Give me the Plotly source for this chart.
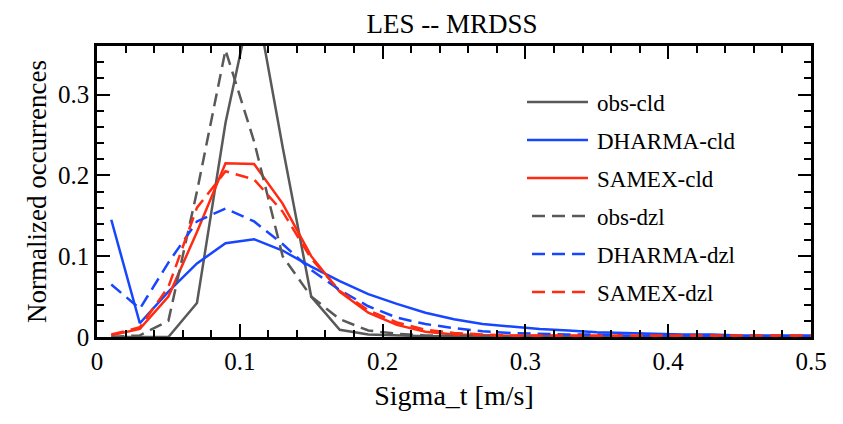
import plotly.graph_objects as go

x = [0.01, 0.03, 0.05, 0.07, 0.09, 0.11, 0.13, 0.15, 0.17, 0.19, 0.21, 0.23, 0.25,
     0.27, 0.29, 0.31, 0.33, 0.35, 0.37, 0.39, 0.41, 0.43, 0.45, 0.47, 0.49, 0.51]

obs_cld = [0.0, 0.0, 0.0, 0.042, 0.265, 0.43, 0.235, 0.05, 0.009, 0.003, 0.002, 0.001, 0.001,
           0.0, 0.0, 0.0, 0.0, 0.0, 0.0, 0.0, 0.0, 0.0, 0.0, 0.0, 0.0, 0.0]
dharma_cld = [0.145, 0.017, 0.056, 0.091, 0.116, 0.121, 0.107, 0.087, 0.069, 0.053, 0.041, 0.030, 0.022,
              0.016, 0.013, 0.010, 0.008, 0.006, 0.005, 0.004, 0.003, 0.003, 0.002, 0.002, 0.002, 0.002]
samex_cld = [0.002, 0.010, 0.050, 0.130, 0.215, 0.214, 0.165, 0.100, 0.056, 0.030, 0.015, 0.0066, 0.003,
             0.002, 0.0015, 0.0015, 0.001, 0.001, 0.001, 0.001, 0.001, 0.001, 0.001, 0.001, 0.001, 0.001]
obs_dzl = [0.0, 0.002, 0.020, 0.180, 0.355, 0.242, 0.100, 0.050, 0.022, 0.008, 0.004, 0.002, 0.001,
           0.001, 0.0, 0.0, 0.0, 0.0, 0.0, 0.0, 0.0, 0.0, 0.0, 0.0, 0.0, 0.0]
dharma_dzl = [0.065, 0.035, 0.092, 0.143, 0.159, 0.143, 0.115, 0.083, 0.058, 0.038, 0.024, 0.016, 0.011,
              0.007, 0.005, 0.004, 0.003, 0.003, 0.002, 0.002, 0.002, 0.001, 0.001, 0.001, 0.001, 0.001]
samex_dzl = [0.003, 0.012, 0.062, 0.160, 0.205, 0.195, 0.155, 0.097, 0.057, 0.033, 0.018, 0.009, 0.005,
             0.003, 0.002, 0.002, 0.002, 0.002, 0.002, 0.002, 0.002, 0.002, 0.002, 0.002, 0.002, 0.002]

names = ["obs-cld", "DHARMA-cld", "SAMEX-cld", "obs-dzl", "DHARMA-dzl", "SAMEX-dzl"]
series = [obs_cld, dharma_cld, samex_cld, obs_dzl, dharma_dzl, samex_dzl]

GRAY = "#595959"
BLUE = "#1746ff"
RED = "#ff2b12"
colors = [GRAY, BLUE, RED, GRAY, BLUE, RED]
DASH = "13px,7px"
dashes = ["solid", "solid", "solid", DASH, DASH, DASH]

FONT = "Liberation Serif"

# page body has an 8px margin: the figure is offset by (8, 8) in the window
OFF = 8
FIG_W, FIG_H = 843 - OFF, 424 - OFF
# plot area target in window pixels
L, R, T, B = 97, 811, 46, 337
W, H = R - L, B - T

fig = go.Figure()
for n, s, c, d in zip(names, series, colors, dashes):
    fig.add_trace(go.Scatter(x=x, y=s, mode="lines", name=n,
                             line=dict(color=c, width=2.5, dash=d),
                             showlegend=False))

def px(v):
    return (v - L) / W
def py(v):
    return (B - v) / H

leg_y = [102, 140, 178, 216, 254, 292]
shapes = []
annotations = []
for n, c, d, yy in zip(names, colors, dashes, leg_y):
    x0 = 527 if d == "solid" else 532
    shapes.append(dict(type="line", xref="paper", yref="paper",
                       x0=px(x0), x1=px(588), y0=py(yy), y1=py(yy),
                       line=dict(color=c, width=2.5, dash=d)))
    annotations.append(dict(xref="paper", yref="paper", x=px(595), y=py(yy + 1),
                            text=n, showarrow=False, xanchor="left", yanchor="middle",
                            font=dict(family=FONT, size=23, color="black")))

axis_common = dict(showline=True, linecolor="black", linewidth=2.5, mirror="ticks",
                   ticks="inside", ticklen=13, tickwidth=2, tickcolor="black",
                   showgrid=False, zeroline=False, automargin=False,
                   tickfont=dict(family=FONT, size=25, color="black"),
                   minor=dict(ticks="inside", ticklen=7, tickwidth=1.5,
                              tickcolor="black", dtick=0.02, showgrid=False))

fig.update_layout(
    width=FIG_W, height=FIG_H,
    margin=dict(l=L - OFF, r=843 - R, t=T - OFF, b=424 - B),
    paper_bgcolor="white", plot_bgcolor="white",
    title=dict(text="LES -- MRDSS", x=(452 - OFF) / FIG_W, xanchor="center",
               y=1 - (24 - OFF) / FIG_H, yanchor="middle",
               font=dict(family=FONT, size=27, color="black")),
    xaxis=dict(range=[0, 0.5], dtick=0.1, tick0=0,
               title=dict(text="Sigma_t [m/s]", font=dict(family=FONT, size=28, color="black"),
                          standoff=12),
               **axis_common),
    yaxis=dict(range=[0, 0.36], dtick=0.1, tick0=0,
               title=dict(text="Normalized occurrences", font=dict(family=FONT, size=27, color="black"),
                          standoff=4),
               **axis_common),
    shapes=shapes,
    annotations=annotations,
)

fig.write_html("out.html")
